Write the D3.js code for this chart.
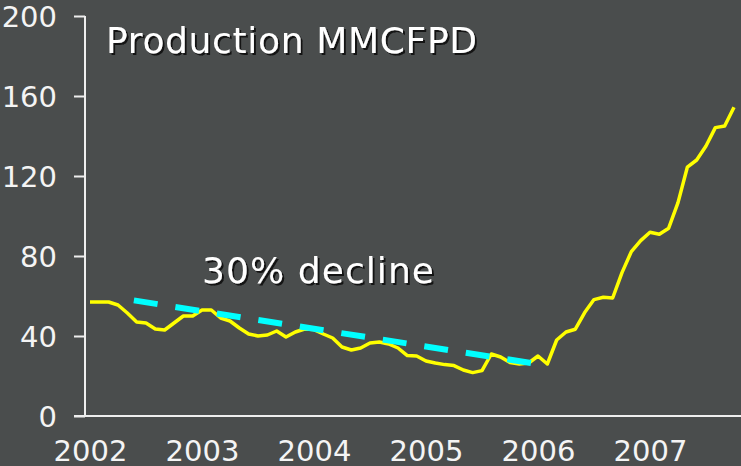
<!DOCTYPE html>
<html>
<head>
<meta charset="utf-8">
<script src="https://cdn.jsdelivr.net/npm/d3@7"></script>
<style>
  html, body { margin: 0; padding: 0; background: #4a4d4d; }
  svg { display: block; }
  text { font-family: Verdana, "DejaVu Sans", sans-serif; }
</style>
</head>
<body>
<div id="chart"></div>
<script>
// monthly production, Jan 2002 .. Oct 2007 (MMCFPD)
const production = [
  57, 57, 57, 55.5, 51.5, 47, 46.5, 43.5, 43, 46.5, 50, 50,
  53, 53, 49, 47.5, 44, 41, 40, 40.5, 42.5, 39.5, 42, 43.5,
  43.2, 41, 39, 34.5, 33, 34, 36.5, 37, 36, 34, 30.2, 30,
  27.5, 26.5, 25.7, 25.2, 23, 21.7, 22.7, 31, 29.5, 26.7, 26, 26.5,
  30, 26, 38, 42, 43.4, 51.7, 58.2, 59.4, 59, 71.7, 82.2, 87.7,
  91.9, 90.9, 93.9, 106.7, 124.4, 128, 135, 144.2, 145, 154.4
];
const yearLabels = ['2002', '2003', '2004', '2005', '2006', '2007'];
const yTicks = [0, 40, 80, 120, 160, 200];

// dashed trend line (month index, value)
const trendMonths = [4.7, 47.25];
const trendValues = [57.8, 26.5];

const titleText = 'Production MMCFPD';
const noteText = '30% decline';

const width = 741;
const height = 466;

const svg = d3.select('#chart')
  .append('svg')
  .attr('width', width)
  .attr('height', height);

// drop shadow for the two big labels
svg.append('defs')
  .append('filter')
  .attr('id', 'shadow')
  .attr('x', '-5%').attr('y', '-20%')
  .attr('width', '115%').attr('height', '150%')
  .append('feDropShadow')
  .attr('dx', 2).attr('dy', 2)
  .attr('stdDeviation', 0.4)
  .attr('flood-color', '#111')
  .attr('flood-opacity', 0.9);

const xScale = d3.scaleLinear()
  .domain([0, 60])
  .range([90, 650]);

const yScale = d3.scaleLinear()
  .domain([0, 200])
  .range([416, 16]);

const axisColor = '#eeeeee';

// y axis
const yAxis = d3.axisLeft(yScale)
  .tickValues(yTicks)
  .tickSize(11)
  .tickPadding(17);

const yG = svg.append('g')
  .attr('transform', 'translate(85,0)')
  .call(yAxis);
yG.select('.domain').remove();
yG.selectAll('line').attr('stroke', axisColor).attr('stroke-width', 2);
yG.selectAll('text')
  .attr('fill', '#f4f4f4')
  .style('font-size', '29px')
  .attr('dy', '0.36em');

// x axis
const xAxis = d3.axisBottom(xScale)
  .tickValues(yearLabels.map((d, i) => i * 12))
  .tickFormat((d, i) => yearLabels[i])
  .tickSize(0)
  .tickPadding(24);

const xG = svg.append('g')
  .attr('transform', 'translate(0,416)')
  .call(xAxis);
xG.select('.domain').remove();
xG.selectAll('text')
  .attr('fill', '#f4f4f4')
  .style('font-size', '29px');

// axis lines
svg.append('line')
  .attr('x1', 85).attr('x2', 85)
  .attr('y1', yScale(200)).attr('y2', yScale(0) + 1)
  .attr('stroke', axisColor).attr('stroke-width', 2);
svg.append('line')
  .attr('x1', 74).attr('x2', width)
  .attr('y1', yScale(0)).attr('y2', yScale(0))
  .attr('stroke', axisColor).attr('stroke-width', 2);

// production line
const line = d3.line()
  .x((d, i) => xScale(i))
  .y(d => yScale(d));

svg.append('path')
  .attr('d', line(production))
  .attr('fill', 'none')
  .attr('stroke', '#ffff00')
  .attr('stroke-width', 3.5)
  .attr('stroke-linejoin', 'round');

// dashed decline line
const trendLine = d3.line()
  .x(d => xScale(d[0]))
  .y(d => yScale(d[1]));

svg.append('path')
  .attr('d', trendLine(trendMonths.map((m, i) => [m, trendValues[i]])))
  .attr('fill', 'none')
  .attr('stroke', '#00ffff')
  .attr('stroke-width', 6)
  .attr('stroke-dasharray', '24,18');

// big labels
function shadowText(txt, x, y, len) {
  svg.append('text')
    .attr('x', x).attr('y', y)
    .attr('fill', '#ffffff')
    .attr('filter', 'url(#shadow)')
    .attr('textLength', len)
    .attr('lengthAdjust', 'spacing')
    .style('font-size', '36px')
    .text(txt);
}

shadowText(titleText, 106, 53, 371);
shadowText(noteText, 202, 283, 232);
</script>
</body>
</html>
